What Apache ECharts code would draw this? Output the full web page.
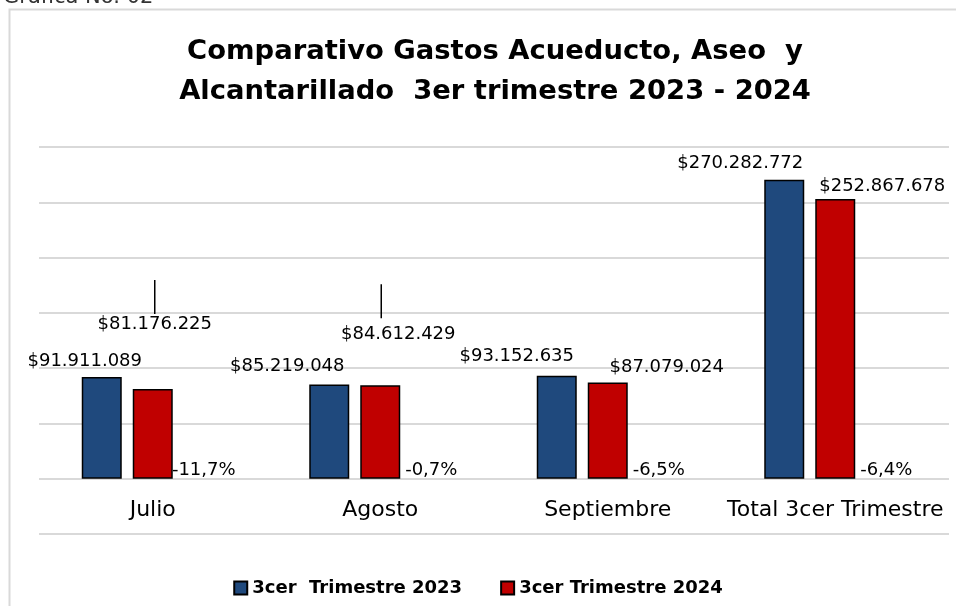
<!DOCTYPE html>
<html>
<head>
<meta charset="utf-8">
<script src="https://cdn.jsdelivr.net/npm/echarts@6/dist/echarts.min.js"></script>
<style>
html, body { margin: 0; padding: 0; background: #fff; }
#chartmain { width: 956px; height: 606px; }
</style>
</head>
<body>
<div id="chartmain"></div>
<script>
var meses = ['Julio', 'Agosto', 'Septiembre', 'Total 3cer Trimestre'];
var gastos2023 = [91911089, 85219048, 93152635, 270282772];
var gastos2024 = [81176225, 84612429, 87079024, 252867678];
var variacion = [-11.7, -0.7, -6.5, -6.4];
var nombres = ['3cer  Trimestre 2023', '3cer Trimestre 2024'];

// etiquetas movidas a mano en el original
var offs2023 = [[-17, -2], [-42, -4], [-40, -5], [-44, -3]];
var offs2024 = [[2, -50], [18, -36], [59, 0], [47, 2]];

var fuente = 'DejaVu Sans';

function pesos(v) {
    return '$' + String(v).replace(/\B(?=(\d{3})+(?!\d))/g, '.');
}

var myChart = echarts.init(document.getElementById('chartmain'));

var option = {
    animation: false,
    textStyle: { fontFamily: fuente },
    title: [{
        text: 'Comparativo Gastos Acueducto, Aseo  y\nAlcantarillado  3er trimestre 2023 - 2024',
        left: 490,
        top: 27,
        textAlign: 'center',
        textStyle: { fontFamily: fuente, fontSize: 27.4, fontWeight: 'bold', lineHeight: 40, color: '#000' }
    }, {
        text: 'Gráfica No. 02',
        left: 3,
        top: -13,
        padding: 0,
        textStyle: { fontFamily: fuente, fontSize: 21, fontWeight: 'normal', color: '#333' }
    }],
    graphic: [{
        type: 'rect',
        silent: true,
        shape: { x: 9.5, y: 9.5, width: 1000, height: 1000 },
        style: { fill: 'none', stroke: '#d9d9d9', lineWidth: 2 }
    }],
    legend: {
        data: nombres,
        left: 'center',
        top: 574,
        icon: 'rect',
        itemWidth: 13,
        itemHeight: 13,
        itemGap: 38,
        textStyle: { fontFamily: fuente, fontSize: 18, fontWeight: 'bold', color: '#000' }
    },
    grid: { left: 39, right: 7, top: 147, bottom: 72 },
    xAxis: {
        type: 'category',
        data: meses,
        axisLine: { show: false, onZero: false },
        axisTick: { show: false },
        axisLabel: { interval: 0, fontFamily: fuente, fontSize: 22, color: '#000', margin: -35 }
    },
    yAxis: {
        type: 'value',
        min: -50000000,
        max: 300000000,
        interval: 50000000,
        axisLabel: { show: false },
        axisLine: { show: false },
        axisTick: { show: false },
        splitLine: { lineStyle: { color: '#d9d9d9', width: 2 } }
    },
    series: [{
        name: nombres[0],
        type: 'bar',
        barWidth: 40,
        barGap: '27.5%',
        itemStyle: { color: '#1F497D', borderColor: '#000', borderWidth: 1.5 },
        label: {
            show: true, position: 'top', distance: 5,
            fontFamily: fuente, fontSize: 18, color: '#000',
            formatter: function (p) { return pesos(p.value); }
        },
        data: gastos2023.map(function (v, i) {
            return { value: v, label: { offset: offs2023[i] } };
        })
    }, {
        name: nombres[1],
        type: 'bar',
        barWidth: 40,
        barGap: '27.5%',
        itemStyle: { color: '#C00000', borderColor: '#000', borderWidth: 1.5 },
        label: {
            show: true, position: 'top', distance: 5,
            fontFamily: fuente, fontSize: 18, color: '#000', lineHeight: 20,
            formatter: function (p) {
                var t = pesos(p.value);
                if (p.dataIndex === 0) return '{ln|}\n{v|' + t + '}';
                if (p.dataIndex === 1) return '{ln|}{sp|}\n{gap|}\n{v|' + t + '}';
                return t;
            },
            rich: {
                ln: { width: 1.5, height: 34, lineHeight: 34, backgroundColor: '#000', align: 'center' },
                sp: { width: 34, height: 34, lineHeight: 34, align: 'center' },
                gap: { width: 1, height: 6, lineHeight: 6, align: 'center' },
                v: { fontFamily: fuente, fontSize: 18, color: '#000', lineHeight: 20, align: 'center' }
            }
        },
        data: gastos2024.map(function (v, i) {
            return { value: v, label: { offset: offs2024[i] } };
        })
    }, {
        name: 'Variación',
        type: 'bar',
        barWidth: 40,
        barGap: '27.5%',
        silent: true,
        itemStyle: { color: 'rgba(0,0,0,0)' },
        label: {
            show: true, position: 'top', distance: -1,
            fontFamily: fuente, fontSize: 18, color: '#000',
            formatter: function (p) { return p.value.toFixed(1).replace('.', ',') + '%'; }
        },
        data: variacion
    }]
};

myChart.setOption(option);
</script>
</body>
</html>
